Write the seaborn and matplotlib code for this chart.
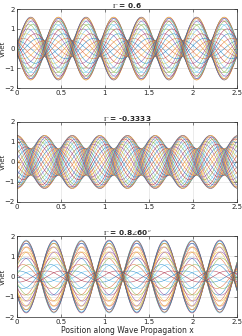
import numpy as np
import pandas as pd
import matplotlib
matplotlib.use('Agg')
import matplotlib.pyplot as plt
import seaborn as sns

# parametros
gamma_mag = [0.6, 0.3333, 0.8]
gamma_ang = [0, 180, 60]          # graus
titulos = [r'$\Gamma$ = 0.6', r'$\Gamma$ = -0.3333', r'$\Gamma$ = 0.8$\angle$60$^o$']
beta = 10.0                        # constante de fase (lambda/2 ~ 0.314)
n_tempos = 30                      # instantes de tempo num periodo
x_lim = [0, 2.5]
y_ticks = [-2, -1, 0, 1, 2]
x_ticks = [0, 0.5, 1, 1.5, 2, 2.5]

# cores padrao do MATLAB
cores = ['#0072BD', '#D95319', '#EDB120', '#7E2F8E', '#77AC30', '#4DBEEE', '#A2142F']

sns.set_style('white')
plt.rcParams['font.family'] = ['DejaVu Sans']
plt.rcParams['mathtext.fontset'] = 'stix'

fig = plt.figure(figsize=(2.42, 3.36), dpi=100)
posicoes = [[0.070, 0.738, 0.909, 0.235],
            [0.070, 0.399, 0.909, 0.238],
            [0.070, 0.0565, 0.909, 0.241]]

x = np.linspace(x_lim[0], x_lim[1], 600)
fases = np.arange(n_tempos) * 2 * np.pi / n_tempos

for i in range(3):
    ax = fig.add_axes(posicoes[i])
    g = gamma_mag[i] * np.exp(1j * np.deg2rad(gamma_ang[i]))
    linhas = []
    for k, wt in enumerate(fases):
        v = np.real((np.exp(-1j * beta * x) - g * np.exp(1j * beta * x)) * np.exp(1j * wt))
        linhas.append(pd.DataFrame({'x': x, 'Vnet': v, 't': k}))
    df = pd.concat(linhas)
    pal = [cores[k % len(cores)] for k in range(n_tempos)]
    sns.lineplot(data=df, x='x', y='Vnet', hue='t', palette=pal, legend=False,
                 linewidth=0.4, alpha=0.75, ax=ax, estimator=None, sort=False)
    ax.set_xlim(x_lim)
    ax.set_ylim(-2, 2)
    ax.set_xticks(x_ticks)
    ax.set_xticklabels(['0', '0.5', '1', '1.5', '2', '2.5'])
    ax.set_yticks(y_ticks)
    ax.tick_params(labelsize=5, direction='in', length=2, width=0.4, pad=1.5,
                   colors='#262626', top=True, right=True, bottom=True, left=True)
    ax.grid(True, color='#dcdcdc', linewidth=0.4)
    for s in ax.spines.values():
        s.set_color('#262626')
        s.set_linewidth(0.5)
    ax.set_title(titulos[i], fontsize=5.3, fontweight='bold', pad=1)
    ax.set_ylabel('Vnet', fontsize=5)
    ax.yaxis.set_label_coords(-0.048, 0.5)
    if i == 2:
        ax.set_xlabel('Position along Wave Propagation x', fontsize=5.5, labelpad=0.5)
    else:
        ax.set_xlabel('')

fig.savefig('out.png', dpi=100)
